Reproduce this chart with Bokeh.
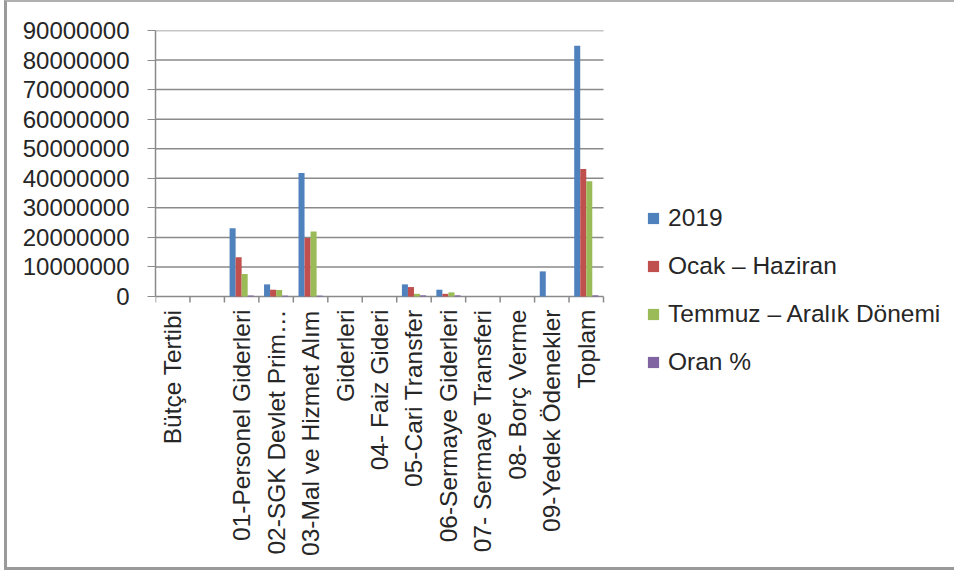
import numpy as np
from bokeh.plotting import figure
from bokeh.models import (ColumnDataSource, Range1d, FixedTicker, NumeralTickFormatter,
                          Legend, LegendItem)
from bokeh.core.properties import value
from bokeh.embed import file_html
from bokeh.resources import INLINE

categories = ["Bütçe Tertibi", "", "01-Personel Giderleri", "02-SGK Devlet Prim…",
              "03-Mal ve Hizmet Alım", "Giderleri", "04- Faiz Gideri", "05-Cari Transfer",
              "06-Sermaye Giderleri", "07- Sermaye Transferi", "08- Borç Verme",
              "09-Yedek Ödenekler", "Toplam"]
series_names = ["2019", "Ocak – Haziran", "Temmuz – Aralık Dönemi", "Oran %"]
v2019 = [0, 0, 23100000, 4100000, 41800000, 0, 0, 4100000, 2300000, 0, 0, 8500000, 84800000]
vocak = [0, 0, 13300000, 2300000, 19800000, 0, 0, 3200000, 900000, 0, 0, 0, 43100000]
vtemmuz = [0, 0, 7600000, 2200000, 22000000, 0, 0, 900000, 1400000, 0, 0, 0, 39000000]
voran = [0, 0, 300000, 300000, 300000, 0, 0, 400000, 400000, 0, 0, 0, 400000]
y_ticks = [0, 10000000, 20000000, 30000000, 40000000, 50000000, 60000000,
           70000000, 80000000, 90000000]
colors = ["#4F81BD", "#C0504D", "#9BBB59", "#8064A2"]

FONT = "Liberation Sans"
TXT = "#262626"
GRAY = "#8a8a8a"
n = len(categories)
centers = [i + 0.5 for i in range(n)]
bounds = list(range(n + 1))

# pixel layout of the drawing area
W, H = 950, 570
LEFT, TOP = 148, 28
PLOT_R, PLOT_B = 596, 294   # right edge / zero line of the bar area
x_end = n * (W - LEFT) / (PLOT_R - LEFT)
y_max = y_ticks[-1]
y_start = -y_max * (H - PLOT_B) / (PLOT_B - TOP)

p = figure(width=W, height=H, output_backend="svg", toolbar_location=None,
           x_range=Range1d(0, x_end), y_range=Range1d(y_start, y_max),
           x_axis_location=None,
           min_border_left=LEFT, min_border_right=0, min_border_top=TOP,
           min_border_bottom=0)
p.outline_line_color = None
p.background_fill_color = "white"
p.border_fill_color = "white"
p.grid.visible = False
p.styles = {"margin-left": "4px", "border-left": "3px solid #9a9a9a",
            "border-top": "2px solid #b0b0b0", "border-bottom": "3px solid #9a9a9a"}

# horizontal gridlines over the bar area
p.segment(x0=[0] * len(y_ticks), x1=[n] * len(y_ticks), y0=y_ticks, y1=y_ticks,
          line_color=GRAY, line_width=1.5)

bw = 0.175
offsets = [-1.5 * bw, -0.5 * bw, 0.5 * bw, 1.5 * bw]
renderers = []
for vals, off, col in zip([v2019, vocak, vtemmuz, voran], offsets, colors):
    src = ColumnDataSource(dict(x=[c + off for c in centers], top=vals))
    r = p.vbar(x="x", top="top", width=bw, source=src, fill_color=col, line_color=None)
    renderers.append(r)

# category axis: boundary ticks and rotated labels
p.ray(x=bounds, y=[0] * len(bounds), length=6, length_units="screen",
      angle=-np.pi / 2, line_color=GRAY, line_width=1.5)
p.text(x=centers, y=[0] * n, text=categories, angle=np.pi / 2, y_offset=13,
       text_align="right", text_baseline="middle", text_font=value(FONT),
       text_font_size=value("24.5px"), text_color=TXT)

# value axis
ya = p.yaxis[0]
ya.bounds = (0, y_max)
ya.ticker = FixedTicker(ticks=y_ticks, minor_ticks=[])
ya.formatter = NumeralTickFormatter(format="0")
ya.major_tick_out = 8
ya.major_tick_in = 0
ya.minor_tick_out = 0
ya.major_tick_line_color = GRAY
ya.axis_line_color = GRAY
ya.axis_line_width = 1.5
ya.major_label_standoff = 18
ya.major_label_text_font = FONT
ya.major_label_text_font_size = "24px"
ya.major_label_text_color = TXT

legend = Legend(items=[LegendItem(label=s, renderers=[r]) for s, r in zip(series_names, renderers)],
                location=(491, H - 374))
legend.glyph_width = 14
legend.glyph_height = 14
legend.label_standoff = 8
legend.spacing = 20
legend.padding = 0
legend.margin = 0
legend.border_line_color = None
legend.background_fill_alpha = 0
legend.label_text_font = FONT
legend.label_text_font_size = "24.5px"
legend.label_text_color = TXT
p.add_layout(legend)

open("out.html", "w").write(file_html(p, INLINE))
